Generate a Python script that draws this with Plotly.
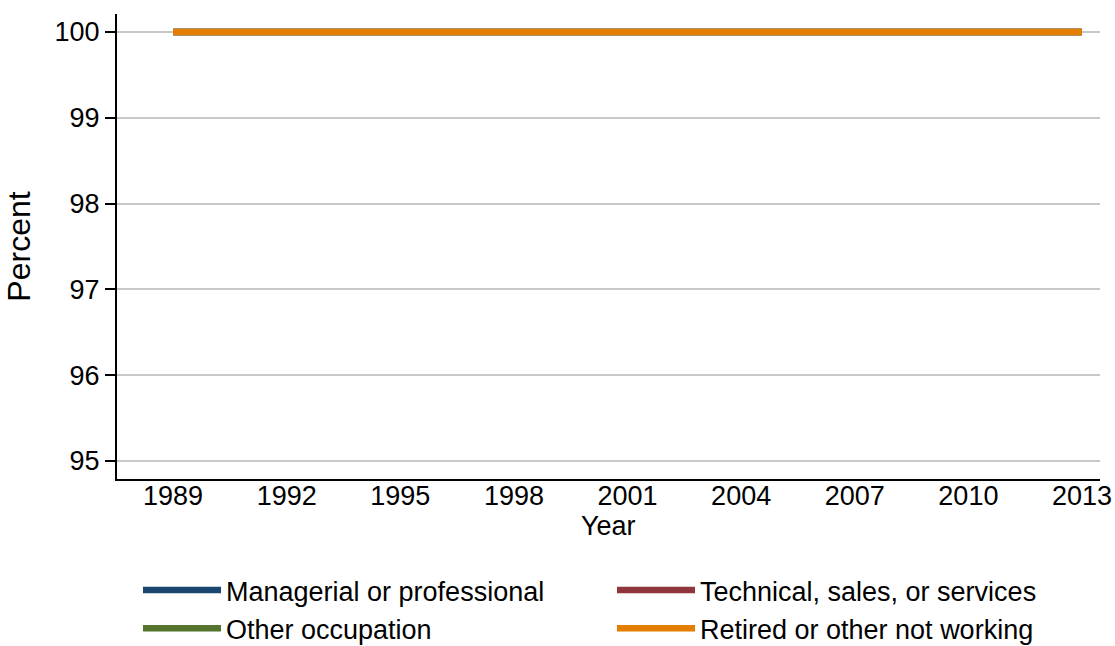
import plotly.graph_objects as go

years = [1989, 1992, 1995, 1998, 2001, 2004, 2007, 2010, 2013]
managerial = [100, 100, 100, 100, 100, 100, 100, 100, 100]
technical = [100, 100, 100, 100, 100, 100, 100, 100, 100]
other_occ = [100, 100, 100, 100, 100, 100, 100, 100, 100]
retired = [100, 100, 100, 100, 100, 100, 100, 100, 100]

series = [
    ("Managerial or professional", managerial, "#1a476f"),
    ("Technical, sales, or services", technical, "#90353b"),
    ("Other occupation", other_occ, "#55752f"),
    ("Retired or other not working", retired, "#e37e00"),
]

fig = go.Figure()
for name, vals, color in series:
    fig.add_trace(go.Scatter(x=years, y=vals, mode="lines", name=name,
                             line=dict(color=color, width=6.5)))

font = "Liberation Sans, Arial, sans-serif"
FS = 27
fig.update_layout(
    width=1115, height=646,
    margin=dict(l=117, r=15, t=14, b=167),
    plot_bgcolor="white", paper_bgcolor="white",
    font=dict(family=font, size=FS, color="black"),
    showlegend=True,
    legend=dict(orientation="h", xref="container", yref="container",
                x=138 / 1115, xanchor="left", y=1 - 566 / 646, yanchor="top",
                itemwidth=78, entrywidth=381, entrywidthmode="pixels",
                font=dict(size=FS), traceorder="normal",
                bgcolor="rgba(0,0,0,0)"),
    xaxis=dict(range=[1987.52, 2013.475], tickvals=years, ticks="",
               ticklabelstandoff=-8, automargin=False,
               showgrid=False, showline=True, linecolor="black", linewidth=2,
               zeroline=False, tickfont=dict(size=FS)),
    yaxis=dict(range=[94.79, 100.21], tickvals=[95, 96, 97, 98, 99, 100],
               ticks="outside", ticklen=10, tickwidth=2, tickcolor="black",
               showgrid=True, gridcolor="#c8c8c8", gridwidth=2, automargin=False,
               showline=True, linecolor="black", linewidth=2, zeroline=False,
               title=dict(text="Percent", standoff=14), tickfont=dict(size=FS)),
    annotations=[dict(text="Year", xref="paper", yref="paper", x=0.5,
                      y=(479 - 526) / 465, xanchor="center", yanchor="middle",
                      showarrow=False, font=dict(size=FS))],
)

fig.write_html("out.html", config={"displayModeBar": False},
               post_script="document.body.style.margin='0';")
